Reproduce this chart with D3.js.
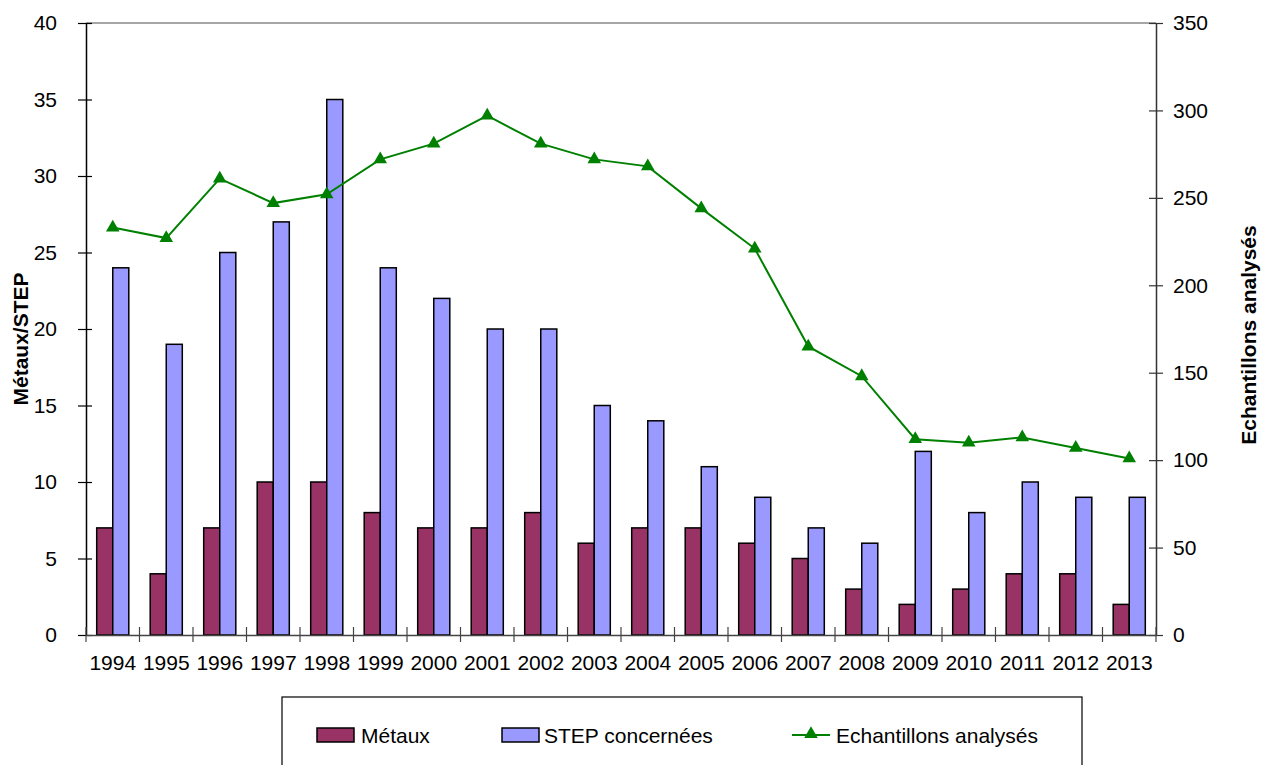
<!DOCTYPE html>
<html>
<head>
<meta charset="utf-8">
<script src="https://cdn.jsdelivr.net/npm/d3@7"></script>
<style>
  html, body { margin: 0; padding: 0; background: #fff; }
  svg { display: block; font-family: "Liberation Sans", Arial, sans-serif; }
</style>
</head>
<body>
<svg id="chart" width="1261" height="765"></svg>
<script>
// Years on the category axis
const years = ["1994","1995","1996","1997","1998","1999","2000","2001","2002","2003",
               "2004","2005","2006","2007","2008","2009","2010","2011","2012","2013"];
// Bars (left axis)
const metaux = [7,4,7,10,10,8,7,7,8,6,7,7,6,5,3,2,3,4,4,2];
const stepConcernees = [24,19,25,27,35,24,22,20,20,15,14,11,9,7,6,12,8,10,9,9];
// Line (right axis)
const echantillons = [233,227,261,247,252,272,281,297,281,272,268,244,221,165,148,112,110,113,107,101];
// Axis ticks
const leftTicks = [0,5,10,15,20,25,30,35,40];
const rightTicks = [0,50,100,150,200,250,300,350];
// Legend entries
const legendLabels = ["Métaux", "STEP concernées", "Echantillons analysés"];

const colMetaux = "#993366", colStep = "#9999FF", colLine = "#008000";
const fontSize = 21;

const svg = d3.select("#chart");
const plot = { left: 86, right: 1156, top: 23, bottom: 635 };

const x = d3.scaleBand().domain(years).range([plot.left, plot.right]);
const yL = d3.scaleLinear().domain([0, 40]).range([plot.bottom, plot.top]);
const yR = d3.scaleLinear().domain([0, 350]).range([plot.bottom, plot.top]);

const barW = x.bandwidth() * 0.3;

// Top border of plot area
svg.append("line")
  .attr("x1", plot.left).attr("x2", plot.right)
  .attr("y1", plot.top).attr("y2", plot.top)
  .attr("stroke", "#888").attr("stroke-width", 1.5);

// Bars
const g = svg.append("g");
g.selectAll("rect.metaux").data(metaux).join("rect")
  .attr("class", "metaux")
  .attr("x", (d, i) => x(years[i]) + x.bandwidth() / 2 - barW)
  .attr("y", d => yL(d))
  .attr("width", barW)
  .attr("height", d => yL(0) - yL(d))
  .attr("fill", colMetaux).attr("stroke", "#000").attr("stroke-width", 1.5);

g.selectAll("rect.step").data(stepConcernees).join("rect")
  .attr("class", "step")
  .attr("x", (d, i) => x(years[i]) + x.bandwidth() / 2)
  .attr("y", d => yL(d))
  .attr("width", barW)
  .attr("height", d => yL(0) - yL(d))
  .attr("fill", colStep).attr("stroke", "#000").attr("stroke-width", 1.5);

// Line with triangle markers
const line = d3.line()
  .x((d, i) => x(years[i]) + x.bandwidth() / 2)
  .y(d => yR(d));
svg.append("path").datum(echantillons)
  .attr("d", line)
  .attr("fill", "none").attr("stroke", colLine).attr("stroke-width", 2);

const tri = d3.symbol().type(d3.symbolTriangle).size(80);
svg.selectAll("path.marker").data(echantillons).join("path")
  .attr("class", "marker")
  .attr("d", tri)
  .attr("transform", (d, i) => `translate(${x(years[i]) + x.bandwidth() / 2},${yR(d)})`)
  .attr("fill", colLine);

// Left axis
const leftAxis = svg.append("g")
  .attr("transform", `translate(${plot.left},0)`)
  .call(d3.axisLeft(yL).tickValues(leftTicks).tickSize(0).tickPadding(29));
leftAxis.select(".domain").attr("stroke", "#000").attr("stroke-width", 1.5);
leftAxis.selectAll(".tick line").remove();
leftAxis.selectAll(".tick").append("line")
  .attr("x1", -8).attr("x2", 6).attr("stroke", "#000").attr("stroke-width", 1.2);
leftAxis.selectAll("text").attr("font-size", fontSize).attr("fill", "#000")
  .attr("font-family", "Liberation Sans, Arial, sans-serif");

// Right axis
const rightAxis = svg.append("g")
  .attr("transform", `translate(${plot.right},0)`)
  .call(d3.axisRight(yR).tickValues(rightTicks).tickSize(0).tickPadding(17));
rightAxis.select(".domain").attr("stroke", "#333").attr("stroke-width", 1.5);
rightAxis.selectAll(".tick line").remove();
rightAxis.selectAll(".tick").append("line")
  .attr("x1", -7).attr("x2", 7).attr("stroke", "#333").attr("stroke-width", 1.2);
rightAxis.selectAll("text").attr("font-size", fontSize).attr("fill", "#000")
  .attr("font-family", "Liberation Sans, Arial, sans-serif");

// Bottom axis
const bottomAxis = svg.append("g")
  .attr("transform", `translate(0,${plot.bottom})`)
  .call(d3.axisBottom(x).tickSize(0).tickPadding(20));
bottomAxis.select(".domain").attr("stroke", "#444").attr("stroke-width", 1.5);
bottomAxis.selectAll("text").attr("font-size", fontSize).attr("fill", "#000")
  .attr("font-family", "Liberation Sans, Arial, sans-serif");
// Tick marks at category boundaries
const boundaries = years.map(yv => x(yv)).concat([plot.right]);
bottomAxis.selectAll("line.boundary").data(boundaries).join("line")
  .attr("class", "boundary")
  .attr("x1", d => d).attr("x2", d => d)
  .attr("y1", -8).attr("y2", 7)
  .attr("stroke", "#444").attr("stroke-width", 1.2);

// Axis titles
svg.append("text")
  .attr("transform", `translate(28,${(plot.top + plot.bottom) / 2 + 10}) rotate(-90)`)
  .attr("text-anchor", "middle")
  .attr("font-size", fontSize).attr("font-weight", "bold")
  .text("Métaux/STEP");

svg.append("text")
  .attr("transform", `translate(1256,${(plot.top + plot.bottom) / 2 + 6}) rotate(-90)`)
  .attr("text-anchor", "middle")
  .attr("font-size", fontSize).attr("font-weight", "bold")
  .text("Echantillons analysés");

// Legend
const legend = svg.append("g");
legend.append("rect")
  .attr("x", 282).attr("y", 697).attr("width", 800).attr("height", 80)
  .attr("fill", "#fff").attr("stroke", "#000").attr("stroke-width", 1.2);

const legendY = 735;
legend.append("rect").attr("x", 317).attr("y", legendY - 7).attr("width", 37).attr("height", 14)
  .attr("fill", colMetaux).attr("stroke", "#000").attr("stroke-width", 1.5);
legend.append("text").attr("x", 361).attr("y", legendY + 7.5)
  .attr("font-size", fontSize).text(legendLabels[0]);

legend.append("rect").attr("x", 502).attr("y", legendY - 7).attr("width", 37).attr("height", 14)
  .attr("fill", colStep).attr("stroke", "#000").attr("stroke-width", 1.5);
legend.append("text").attr("x", 544).attr("y", legendY + 7.5)
  .attr("font-size", fontSize).text(legendLabels[1]);

legend.append("line").attr("x1", 792).attr("x2", 830).attr("y1", legendY).attr("y2", legendY)
  .attr("stroke", colLine).attr("stroke-width", 2);
legend.append("path").attr("d", tri).attr("transform", `translate(811,${legendY - 1})`)
  .attr("fill", colLine);
legend.append("text").attr("x", 836).attr("y", legendY + 7.5)
  .attr("font-size", fontSize).text(legendLabels[2]);
</script>
</body>
</html>
